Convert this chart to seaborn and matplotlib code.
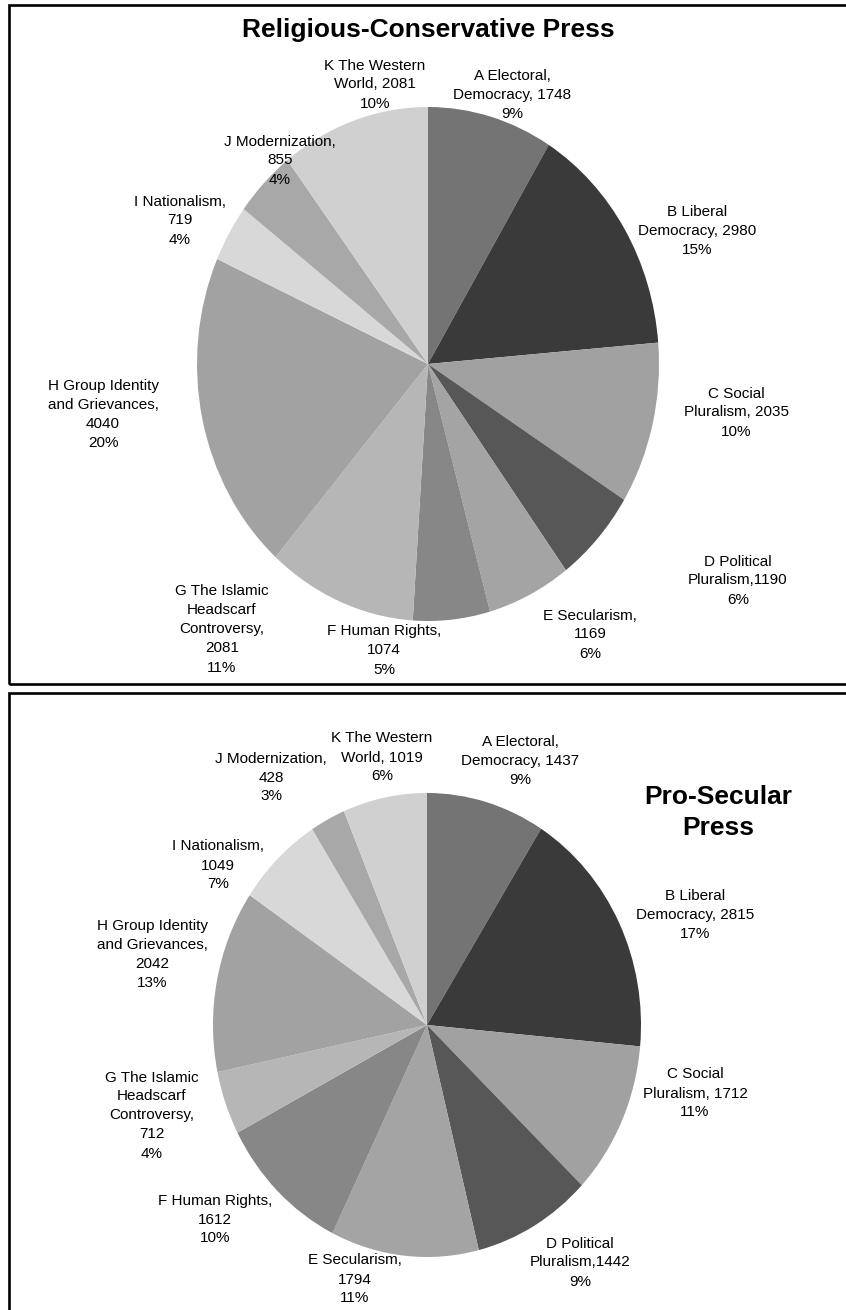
import matplotlib
matplotlib.use("Agg")
import matplotlib.pyplot as plt
from matplotlib.patches import Rectangle
import seaborn as sns

# ---- data -------------------------------------------------------------
categories = ["A", "B", "C", "D", "E", "F", "G", "H", "I", "J", "K"]

rc_values = [1748, 2980, 2035, 1190, 1169, 1074, 2081, 4040, 719, 855, 2081]
rc_labels = [
    "A Electoral,\nDemocracy, 1748\n9%",
    "B Liberal\nDemocracy, 2980\n15%",
    "C Social\nPluralism, 2035\n10%",
    "D Political\nPluralism,1190\n6%",
    "E Secularism,\n1169\n6%",
    "F Human Rights,\n1074\n5%",
    "G The Islamic\nHeadscarf\nControversy,\n2081\n11%",
    "H Group Identity\nand Grievances,\n4040\n20%",
    "I Nationalism,\n719\n4%",
    "J Modernization,\n855\n4%",
    "K The Western\nWorld, 2081\n10%",
]

ps_values = [1437, 2815, 1712, 1442, 1794, 1612, 712, 2042, 1049, 428, 1019]
ps_labels = [
    "A Electoral,\nDemocracy, 1437\n9%",
    "B Liberal\nDemocracy, 2815\n17%",
    "C Social\nPluralism, 1712\n11%",
    "D Political\nPluralism,1442\n9%",
    "E Secularism,\n1794\n11%",
    "F Human Rights,\n1612\n10%",
    "G The Islamic\nHeadscarf\nControversy,\n712\n4%",
    "H Group Identity\nand Grievances,\n2042\n13%",
    "I Nationalism,\n1049\n7%",
    "J Modernization,\n428\n3%",
    "K The Western\nWorld, 1019\n6%",
]

shades = ["#747474", "#3a3a3a", "#a1a1a1", "#575757", "#a4a4a4", "#878787",
          "#b6b6b6", "#a2a2a2", "#d8d8d8", "#a8a8a8", "#d0d0d0"]

# ---- layout (pixels) --------------------------------------------------
W, H = 846, 1310
rc_pie = (428, 364, 231, 257)      # centre x, centre y, radius x, radius y
ps_pie = (427, 1025, 214, 232)
rc_label_pos = [(512, 93), (697, 229), (736, 411), (738, 579), (590, 633),
                (384, 649), (222, 628), (103, 413), (180, 219), (280, 159),
                (375, 83)]
ps_label_pos = [(520, 759), (695, 913), (695, 1092), (580, 1261), (355, 1278),
                (215, 1218), (152, 1114), (152, 953), (218, 864), (271, 776),
                (382, 756)]

sns.set_theme(style="white")
plt.rcParams["font.family"] = ["Liberation Sans", "DejaVu Sans"]

fig = plt.figure(figsize=(W / 100, H / 100), dpi=100)
fig.patch.set_facecolor("white")


def pie_axes(cx, cy, rx, ry):
    return fig.add_axes([(cx - rx) / W, 1 - (cy + ry) / H, 2 * rx / W, 2 * ry / H])


def draw_pie(ax, values):
    ax.pie(values, colors=shades, startangle=90, counterclock=False,
           radius=1, wedgeprops=dict(linewidth=0))
    ax.set_xlim(-1, 1)
    ax.set_ylim(-1, 1)
    ax.set_aspect("auto")
    ax.axis("off")


def put_text(text, cx, cy, step=19, size=11, weight="normal"):
    lines = text.split("\n")
    n = len(lines)
    for i, line in enumerate(lines):
        y = cy + (i - (n - 1) / 2) * step
        fig.text(cx / W, 1 - (y + 0.36 * size * 100 / 72) / H, line,
                 ha="center", va="baseline", fontsize=size,
                 fontweight=weight, color="black")


def panel(top, bottom):
    fig.add_artist(Rectangle((9 / W, 1 - bottom / H),
                             (W + 20) / W, (bottom - top) / H,
                             transform=fig.transFigure, fill=False,
                             edgecolor="black", linewidth=1.9))


panel(4.5, 684)
panel(693, H + 20)

ax_rc = pie_axes(*rc_pie)
draw_pie(ax_rc, rc_values)
ax_ps = pie_axes(*ps_pie)
draw_pie(ax_ps, ps_values)

put_text("Religious-Conservative Press", 428, 28, size=19, weight="bold")
put_text("Pro-Secular\nPress", 718, 810, step=31, size=19, weight="bold")

for text, (x, y) in zip(rc_labels, rc_label_pos):
    put_text(text, x, y)
for text, (x, y) in zip(ps_labels, ps_label_pos):
    put_text(text, x, y)

fig.savefig("out.png", dpi=100, facecolor="white")
